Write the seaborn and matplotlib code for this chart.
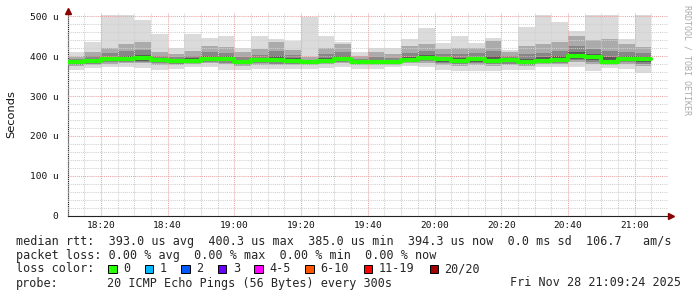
import numpy as np
import pandas as pd
import matplotlib
matplotlib.use("Agg")
import matplotlib.pyplot as plt
import matplotlib.dates as mdates
from matplotlib.ticker import MultipleLocator, FuncFormatter
from matplotlib.patches import Rectangle
import seaborn as sns

# ---------------- data (microseconds, 5-minute steps from 18:10) ----------------
start_time = "2025-11-28 18:10"
n_steps = 35
rtt_max = [412, 437, 503, 503, 492, 455, 420, 455, 447, 452, 420, 452, 444, 439, 498, 450,
           437, 412, 421, 421, 444, 472, 434, 450, 434, 446, 417, 474, 503, 486, 464, 503,
           503, 444, 503]
rtt_q3 = [399, 410, 422, 432, 435, 410, 405, 414, 426, 424, 410, 418, 435, 416, 397, 422,
          431, 401, 410, 405, 426, 430, 418, 422, 422, 439, 410, 426, 430, 437, 451, 440,
          443, 430, 424]
rtt_median = [385, 389, 393, 393, 395, 391, 389, 389, 394, 393, 386, 390, 390, 389, 385, 389,
              393, 386, 386, 385, 391, 396, 393, 389, 393, 389, 390, 385, 388, 390, 400, 397,
              386, 394, 394]
rtt_q1 = [376, 378, 381, 382, 382, 378, 377, 380, 383, 380, 376, 379, 378, 378, 377, 380,
          382, 377, 377, 378, 383, 384, 379, 376, 378, 376, 378, 376, 380, 381, 386, 381,
          378, 381, 376]
rtt_min = [366, 370, 372, 373, 370, 366, 367, 372, 372, 366, 366, 368, 368, 368, 368, 370,
           372, 368, 368, 372, 375, 372, 366, 364, 364, 364, 366, 366, 372, 372, 372, 362,
           370, 368, 359]

loss_labels = ["0", "1", "2", "3", "4-5", "6-10", "11-19", "20/20"]
loss_colors = ["#26ff00", "#00b8ff", "#0059ff", "#6a00ff", "#ff00ff", "#ff5500", "#ff0000", "#a10000"]

row_rtt = "median rtt:  393.0 us avg  400.3 us max  385.0 us min  394.3 us now  0.0 ms sd  106.7   am/s"
row_loss = "packet loss: 0.00 % avg  0.00 % max  0.00 % min  0.00 % now"
probe_text = "20 ICMP Echo Pings (56 Bytes) every 300s"
stamp_text = "Fri Nov 28 21:09:24 2025"

# ---------------- figure ----------------
sns.set_style("white")
plt.rcParams["font.family"] = ["DejaVu Sans Mono", "DejaVu Sans"]

W, H = 697, 297
fig = plt.figure(figsize=(W / 100, H / 100), dpi=100)
fig.patch.set_facecolor("white")
ax = fig.add_axes([67.6 / W, (H - 215.5) / H, 600.4 / W, 203 / H])
ax.set_facecolor("white")

edges = pd.date_range(start_time, periods=n_steps + 1, freq="5min")


def stepped(a):
    a = np.asarray(a, dtype=float)
    return np.append(a, a[-1])


mx, q3, md, q1, mn = (stepped(v) for v in (rtt_max, rtt_q3, rtt_median, rtt_q1, rtt_min))

ax.fill_between(edges, mn, mx, step="post", color="#dbdbdb", lw=0, zorder=1.0)
ax.fill_between(edges, q1, q3, step="post", color="#ababab", lw=0, zorder=1.1)
ax.fill_between(edges, q1 + (md - q1) * 0.3, md + (q3 - md) * 0.5, step="post",
                color="#878787", lw=0, zorder=1.2)
ax.fill_between(edges, q1 + (md - q1) * 0.55, md + (q3 - md) * 0.22, step="post",
                color="#585858", lw=0, zorder=1.3)

sns.lineplot(x=edges, y=md, drawstyle="steps-post", color="#26ff00", lw=3.0,
             estimator=None, ax=ax, zorder=3)

t0 = edges[0]
ax.set_xlim(t0, t0 + pd.Timedelta(minutes=180))
ax.set_ylim(0, 510)

ax.xaxis.set_major_locator(mdates.MinuteLocator(byminute=[0, 20, 40]))
ax.xaxis.set_minor_locator(mdates.MinuteLocator(byminute=range(0, 60, 5)))
ax.xaxis.set_major_formatter(mdates.DateFormatter("%H:%M"))
ax.yaxis.set_major_locator(MultipleLocator(100))
ax.yaxis.set_minor_locator(MultipleLocator(20))
ax.yaxis.set_major_formatter(FuncFormatter(lambda v, p: "0" if v == 0 else f"{v:.0f} u"))

ax.grid(which="major", color="#e8a4a4", ls=(0, (1, 1)), lw=0.75)
ax.grid(which="minor", color="#d0d0d0", ls=(0, (1, 1)), lw=0.75)
ax.set_axisbelow(False)

ax.tick_params(which="major", direction="out", length=2.5, width=0.7, color="#333333",
               labelsize=6.8, labelcolor="#111111")
ax.tick_params(axis="y", which="major", pad=4.0)
ax.tick_params(axis="x", which="major", pad=1.2)
ax.tick_params(which="minor", direction="in", length=1.5, width=0.5, color="#666666")
for lab in ax.get_xticklabels() + ax.get_yticklabels():
    lab.set_family("DejaVu Sans Mono")

for s in ("top", "right"):
    ax.spines[s].set_visible(False)
for s in ("left", "bottom"):
    ax.spines[s].set_color("#222222")
    ax.spines[s].set_linewidth(0.8)
ax.set_xlabel("")
ax.set_ylabel("")

# axis arrows
ax.plot([0], [1.008], marker="^", ms=4, color="#8b0000", transform=ax.transAxes, clip_on=False, zorder=6)
ax.plot([1.005], [0], marker=">", ms=4, color="#8b0000", transform=ax.transAxes, clip_on=False, zorder=6)

# y label and watermark
fig.text(11 / W, 1 - 114 / H, "Seconds", rotation=90, ha="center", va="center",
         fontsize=8.2, family="DejaVu Sans", color="#111111")
fig.text(687 / W, 1 - 60 / H, "RRDTOOL / TOBI OETIKER", rotation=270, ha="center", va="center",
         fontsize=6.0, family="DejaVu Sans Mono", color="#aaaaaa")

# legend rows
fs = 8.5
mono = "DejaVu Sans Mono"
fig.text(16 / W, 1 - 241 / H, row_rtt, ha="left", va="center", fontsize=fs, family=mono)
fig.text(16 / W, 1 - 255 / H, row_loss, ha="left", va="center", fontsize=fs, family=mono)
fig.text(16 / W, 1 - 269 / H, "loss color:", ha="left", va="center", fontsize=fs, family=mono)
bx = 108.3
cw = 7.3
for lab, col in zip(loss_labels, loss_colors):
    fig.patches.append(Rectangle((bx / W, 1 - 273.0 / H), 8.3 / W, 8.3 / H,
                                 transform=fig.transFigure, facecolor=col,
                                 edgecolor="#000000", lw=0.7, figure=fig))
    fig.text((bx + 15) / W, 1 - 269 / H, lab, ha="left", va="center", fontsize=fs, family=mono)
    bx += (4 + len(lab)) * cw
fig.text(16 / W, 1 - 283 / H, "probe:", ha="left", va="center", fontsize=fs, family=mono)
fig.text(107 / W, 1 - 283 / H, probe_text, ha="left", va="center", fontsize=fs, family=mono)
fig.text(681 / W, 1 - 283 / H, stamp_text, ha="right", va="center", fontsize=fs, family=mono)

fig.savefig("out.png", dpi=100, facecolor="white")
